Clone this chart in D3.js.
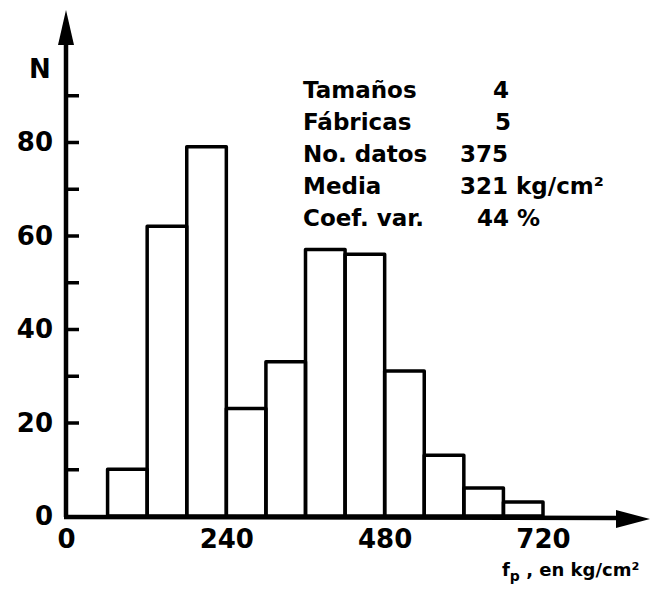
<!DOCTYPE html>
<html>
<head>
<meta charset="utf-8">
<script src="https://cdn.jsdelivr.net/npm/d3@7"></script>
<style>
  body { margin: 0; background: #fff; }
  svg { display: block; font-family: "DejaVu Sans", sans-serif; font-weight: bold; }
</style>
</head>
<body>
<svg id="chart" width="652" height="589"></svg>
<script>
"use strict";

// Histograma de resistencias f_p (intervalos de 60 kg/cm2)
var binStarts = [60, 120, 180, 240, 300, 360, 420, 480, 540, 600, 660]
var binWidth = 60
var counts = [10, 62, 79, 23, 33, 57, 56, 31, 13, 6, 3]

var xTickValues = [0, 240, 480, 720]
var yTickValues = [10, 20, 30, 40, 50, 60, 70, 80, 90]
var yLabelValues = [0, 20, 40, 60, 80]

var infoLabels = ["Tamaños", "Fábricas", "No. datos", "Media", "Coef. var."]
var infoValues = ["4", "5", "375", "321 kg/cm²", "44 %"]

var svg = d3.select("#chart")

var x = d3.scaleLinear().domain([0, 720]).range([68, 543])
var y = d3.scaleLinear().domain([0, 80]).range([516, 142])

// barras
svg.append("g")
  .selectAll("rect")
  .data(binStarts)
  .enter()
  .append("rect")
    .attr("x", function(d) { return x(d) })
    .attr("y", function(d, i) { return y(counts[i]) })
    .attr("width", function(d) { return x(d + binWidth) - x(d) })
    .attr("height", function(d, i) { return y(0) - y(counts[i]) })
    .style("fill", "none")
    .style("stroke", "#000")
    .style("stroke-width", 3.5)
    .style("stroke-linejoin", "round")

// eje Y con marcas hacia dentro
var yAxis = svg.append("g")
  .attr("transform", "translate(66,0)")
  .call(d3.axisLeft(y).tickValues(yTickValues).tickSize(-13).tickFormat(""))
yAxis.select(".domain").remove()
yAxis.selectAll(".tick line").style("stroke", "#000").style("stroke-width", 3.5)

svg.append("g")
  .selectAll("text")
  .data(yLabelValues)
  .enter()
  .append("text")
    .attr("x", 53)
    .attr("y", function(d) { return y(d) + 9 })
    .attr("text-anchor", "end")
    .style("font-size", "26px")
    .text(function(d) { return d })

// eje X (solo etiquetas)
var xAxis = svg.append("g")
  .attr("transform", "translate(0,517)")
  .call(d3.axisBottom(x).tickValues(xTickValues).tickSize(0))
xAxis.select(".domain").remove()
xAxis.selectAll(".tick text")
  .attr("dy", 0)
  .attr("y", 31)
  .style("font-size", "26px")
  .style("font-family", "DejaVu Sans, sans-serif")
  .style("font-weight", "bold")
  .attr("transform", function(d) { return d === 0 ? "translate(-2,0)" : "translate(0,0)" })

// líneas de los ejes y flechas
svg.append("line")
  .attr("x1", 66).attr("y1", 517).attr("x2", 66).attr("y2", 40)
  .style("stroke", "#000").style("stroke-width", 4.5)
svg.append("line")
  .attr("x1", 64).attr("y1", 517).attr("x2", 622).attr("y2", 518)
  .style("stroke", "#000").style("stroke-width", 4.5)
svg.append("path")
  .attr("d", "M66,10 L74,45 L58,45 Z")
  .style("fill", "#000")
svg.append("path")
  .attr("d", "M650,519 L616,510 L616,528 Z")
  .style("fill", "#000")

svg.append("text")
  .attr("x", 29).attr("y", 78)
  .style("font-size", "26px")
  .text("N")

// título del eje X
var xTitle = svg.append("text")
  .attr("x", 502).attr("y", 576)
  .style("font-size", "18px")
xTitle.append("tspan").text("f")
xTitle.append("tspan").attr("dy", 5).style("font-size", "14px").text("p")
xTitle.append("tspan").attr("dy", -5).text(" , en kg/cm²")

// cuadro de datos
var info = svg.append("g")
info.selectAll("text.label")
  .data(infoLabels)
  .enter()
  .append("text")
    .attr("class", "label")
    .attr("x", 303)
    .attr("y", function(d, i) { return 98 + i * 32 })
    .style("font-size", "23px")
    .text(function(d) { return d })

var valueX = [493, 495, 460, 460, 477]
info.selectAll("text.value")
  .data(infoValues)
  .enter()
  .append("text")
    .attr("class", "value")
    .attr("x", function(d, i) { return valueX[i] })
    .attr("y", function(d, i) { return 98 + i * 32 })
    .style("font-size", "23px")
    .text(function(d) { return d })
</script>
</body>
</html>
